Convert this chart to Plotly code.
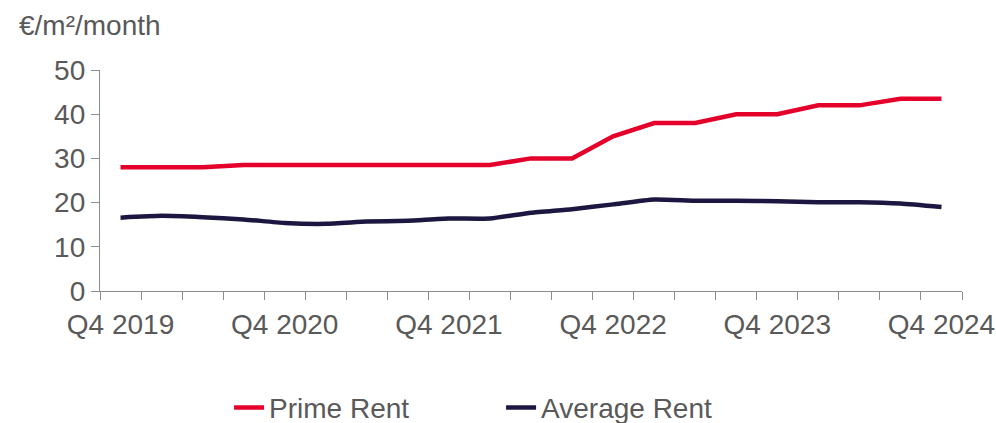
import plotly.graph_objects as go

quarters = ["Q4 2019", "Q1 2020", "Q2 2020", "Q3 2020", "Q4 2020", "Q1 2021", "Q2 2021",
            "Q3 2021", "Q4 2021", "Q1 2022", "Q2 2022", "Q3 2022", "Q4 2022", "Q1 2023",
            "Q2 2023", "Q3 2023", "Q4 2023", "Q1 2024", "Q2 2024", "Q3 2024", "Q4 2024"]
prime_rent = [28, 28, 28, 28.5, 28.5, 28.5, 28.5, 28.5, 28.5, 28.5, 30, 30, 35, 38, 38,
              40, 40, 42, 42, 43.5, 43.5]
average_rent = [16.6, 17.0, 16.7, 16.2, 15.4, 15.2, 15.7, 15.9, 16.4, 16.4, 17.7, 18.5,
                19.6, 20.7, 20.4, 20.4, 20.3, 20.1, 20.1, 19.8, 19.0]
y_ticks = [0, 10, 20, 30, 40, 50]

FONT = "Liberation Sans, Arial, sans-serif"
TXT = "#595959"
AX = "#8c8c8c"

xs = list(range(len(quarters)))
label_idx = [i for i, q in enumerate(quarters) if q.startswith("Q4")]

fig = go.Figure()
fig.add_trace(go.Scatter(x=xs, y=prime_rent, name="Prime Rent", mode="lines",
                         line=dict(color="#E4002B", width=4.5)))
fig.add_trace(go.Scatter(x=xs, y=average_rent, name="Average Rent", mode="lines",
                         line=dict(color="#1C1740", width=4.5, shape="spline", smoothing=0.5)))

fig.update_layout(
    width=996, height=423,
    margin=dict(l=100, r=34, t=70, b=132, autoexpand=False),
    paper_bgcolor="white", plot_bgcolor="white",
    font=dict(family=FONT, size=28, color=TXT),
    showlegend=True,
    legend=dict(orientation="h", xref="container", yref="container",
                x=0.23, y=0.036, xanchor="left", yanchor="middle",
                font=dict(size=28, color=TXT), entrywidthmode="pixels", entrywidth=227,
                itemwidth=30, tracegroupgap=0, bgcolor="rgba(0,0,0,0)"),
    xaxis=dict(range=[-0.5, len(quarters) - 0.5], showgrid=False, zeroline=False,
               automargin=False,
               showline=True, linecolor=AX, linewidth=1.3,
               tickmode="array", tickvals=label_idx, ticktext=[quarters[i] for i in label_idx],
               ticks="outside", ticklen=8, tickcolor="rgba(0,0,0,0)",
               minor=dict(tickmode="linear", tick0=-0.5, dtick=1, ticks="outside",
                          ticklen=8, tickcolor=AX, tickwidth=1.3),
               tickfont=dict(size=28, color=TXT)),
    yaxis=dict(range=[0, 50], tickmode="array", tickvals=y_ticks, showgrid=False,
               automargin=False,
               zeroline=False, showline=True, linecolor=AX, linewidth=1.3,
               ticks="outside", ticklen=8, tickcolor=AX, tickwidth=1.3,
               tickfont=dict(size=28, color=TXT)),
    annotations=[dict(text="€/m²/month", xref="paper", yref="paper",
                      x=(17 - 100) / 862, y=(291 - 25) / 221, xanchor="left", yanchor="middle",
                      showarrow=False, font=dict(size=28, color=TXT))],
)

fig.write_html("out.html")
